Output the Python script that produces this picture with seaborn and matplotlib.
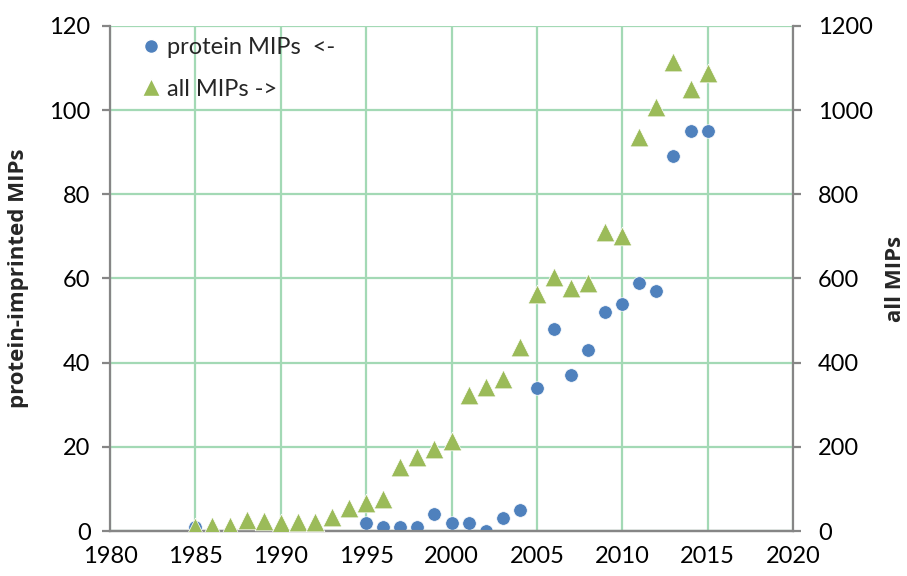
import matplotlib
matplotlib.use("Agg")
import matplotlib.pyplot as plt
import seaborn as sns
import pandas as pd
from matplotlib.lines import Line2D

sns.set_style("white")
plt.rcParams['font.family'] = ['Lato', 'DejaVu Sans']

protein_years = [1985, 1995, 1996, 1997, 1998, 1999, 2000, 2001, 2002, 2003, 2004,
                 2005, 2006, 2007, 2008, 2009, 2010, 2011, 2012, 2013, 2014, 2015]
protein_mips = [1, 2, 1, 1, 1, 4, 2, 2, 0, 3, 5,
                34, 48, 37, 43, 52, 54, 59, 57, 89, 95, 95]

all_years = list(range(1985, 2016))
all_mips = [10, 13, 12, 25, 23, 19, 21, 21, 33, 55, 66, 75, 152, 176, 196, 213,
            324, 341, 361, 437, 563, 604, 577, 589, 710, 702, 936, 1007, 1114, 1050, 1088]

blue = "#4f81bd"
green = "#9bbb59"
gridc = "#a3d9b5"
spinec = "#868686"

df_p = pd.DataFrame({"year": protein_years, "value": protein_mips})
df_a = pd.DataFrame({"year": all_years, "value": all_mips})

fig = plt.figure(figsize=(9.07, 5.76), dpi=100)
ax = fig.add_axes([0.1213, 0.0781, 0.7530, 0.8768])
ax2 = ax.twinx()

sns.scatterplot(data=df_p, x="year", y="value", ax=ax, color=blue, s=95,
                marker="o", edgecolor="white", linewidth=0.5, zorder=3)
sns.scatterplot(data=df_a, x="year", y="value", ax=ax2, color=green, s=180,
                marker="^", edgecolor="white", linewidth=0.5, zorder=3)

ax.set_xlim(1980, 2020)
ax.set_ylim(0, 120)
ax2.set_ylim(0, 1200)
ax.set_xticks(range(1980, 2021, 5))
ax.set_yticks(range(0, 121, 20))
ax2.set_yticks(range(0, 1201, 200))

ax.grid(True, color=gridc, linewidth=1.6)
ax.set_axisbelow(True)
ax2.grid(False)

for a in (ax, ax2):
    for side in ("left", "right", "bottom"):
        a.spines[side].set_color(spinec)
        a.spines[side].set_linewidth(1.6)
    a.spines["top"].set_visible(False)
    a.tick_params(axis="both", labelsize=17, colors="black", length=6,
                  width=1.6, color=spinec, direction="out", pad=6)
ax2.spines["left"].set_visible(False)
ax.spines["right"].set_visible(False)
ax.tick_params(axis="y", pad=8)
ax2.tick_params(axis="y", pad=12)
ax.tick_params(axis="x", pad=5)

ax.set_xlabel("")
ax.set_ylabel("protein-imprinted MIPs", fontsize=16, fontweight="bold",
              family=["Open Sans", "DejaVu Sans"])
ax.yaxis.set_label_coords(-0.118, 0.5)
ax2.set_ylabel("all MIPs", fontsize=16, fontweight="bold",
               family=["Open Sans", "DejaVu Sans"])
ax2.yaxis.set_label_coords(1.134, 0.5)

handles = [
    Line2D([], [], marker="o", color=blue, linestyle="none", markersize=10, markeredgecolor="white"),
    Line2D([], [], marker="^", color=green, linestyle="none", markersize=12.5, markeredgecolor="white"),
]
ax2.legend(handles, ["protein MIPs  <-", "all MIPs ->"], loc="upper left",
           bbox_to_anchor=(0.018, 1.01), frameon=False, fontsize=17,
           handlelength=1.0, handletextpad=0.2, labelspacing=0.85, borderaxespad=0.3)

fig.savefig("out.png", dpi=100)
